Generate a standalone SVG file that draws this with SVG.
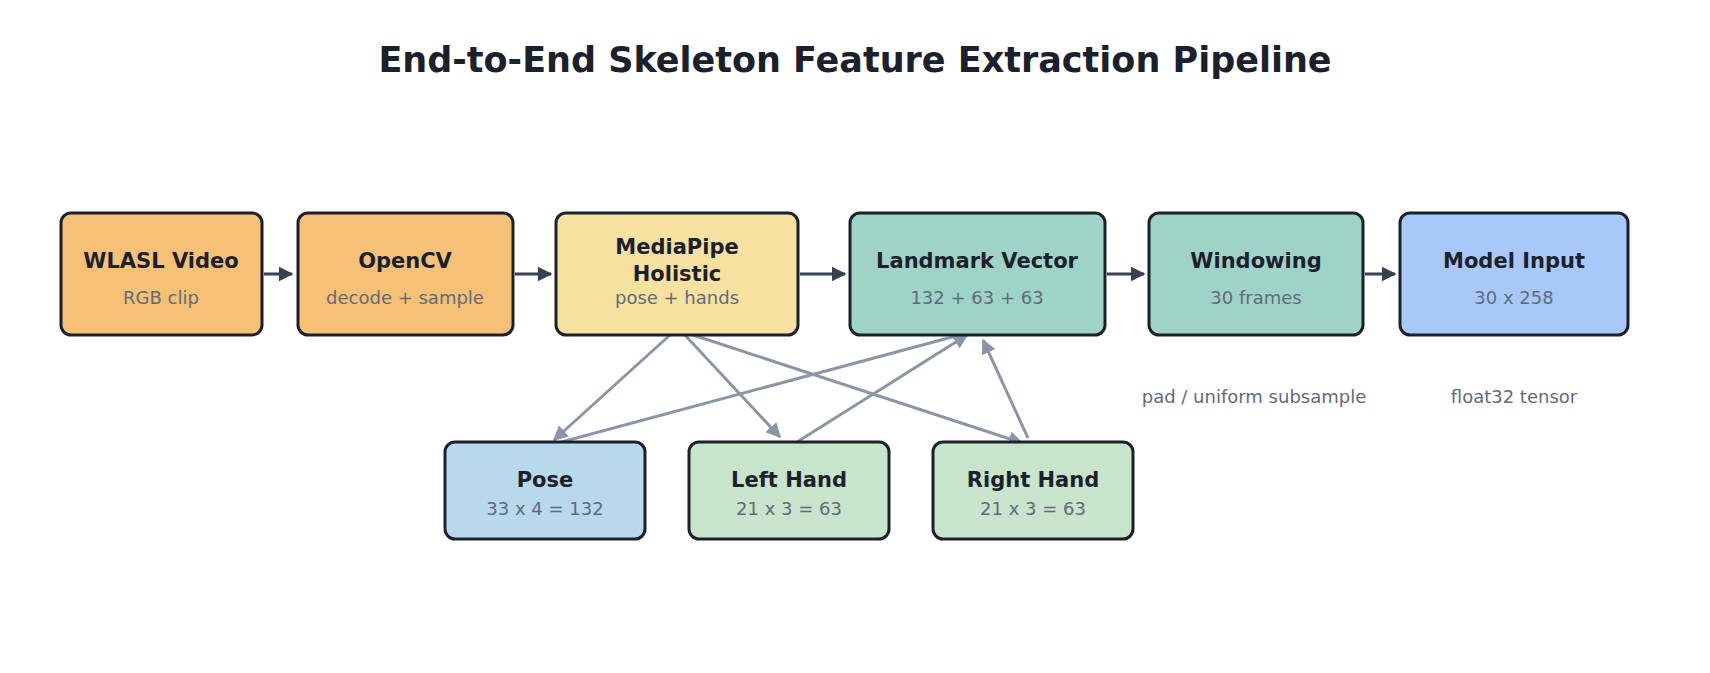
<svg xmlns="http://www.w3.org/2000/svg" width="1710" height="673" viewBox="0 0 1710 673">
<defs>
<style>
.b{stroke:#1a202c;stroke-width:3}
.t{font-family:"DejaVu Sans",sans-serif;font-weight:bold;font-size:21px;fill:#1a202c;text-anchor:middle}
.s{font-family:"DejaVu Sans",sans-serif;font-size:18px;fill:#5f6b7d;text-anchor:middle}
.d{stroke:#374151;stroke-width:3;fill:none;marker-end:url(#ad)}
.g{stroke:#8b95a8;stroke-width:3;fill:none;marker-end:url(#ag)}
</style>
<marker id="ad" viewBox="0 0 10 10" refX="9" refY="5" markerWidth="5" markerHeight="5" orient="auto"><path d="M0,0L10,5L0,10z" fill="#374151"/></marker>
<marker id="ag" viewBox="0 0 10 10" refX="9" refY="5" markerWidth="5" markerHeight="5" orient="auto"><path d="M0,0L10,5L0,10z" fill="#8b95a8"/></marker>
</defs>
<rect width="1710" height="673" fill="#fff"/>
<text x="855" y="72" font-family="DejaVu Sans,sans-serif" font-weight="bold" font-size="35" fill="#1a202c" text-anchor="middle">End-to-End Skeleton Feature Extraction Pipeline</text>
<g id="connectors">
<path class="d" d="M264,274H292"/>
<path class="d" d="M515,274H551"/>
<path class="d" d="M800,274H845"/>
<path class="d" d="M1107,274H1144"/>
<path class="d" d="M1365,274H1395"/>
<path class="g" d="M670,335L554,440"/>
<path class="g" d="M683,333L780,437"/>
<path class="g" d="M687,333L1022,443"/>
<path class="g" d="M554,444L967,333"/>
<path class="g" d="M797,442L967,335"/>
<path class="g" d="M1028,438L983,340"/>
</g>
<g id="wlasl"><rect class="b" x="61" y="213" width="201" height="122" rx="10" fill="#f6c177"/><text class="t" x="161" y="268">WLASL Video</text><text class="s" x="161" y="304">RGB clip</text></g>
<g id="opencv"><rect class="b" x="298" y="213" width="215" height="122" rx="10" fill="#f6c177"/><text class="t" x="405" y="268">OpenCV</text><text class="s" x="405" y="304">decode + sample</text></g>
<g id="mediapipe"><rect class="b" x="556" y="213" width="242" height="122" rx="10" fill="#f7e1a1"/><text class="t" x="677" y="254">MediaPipe</text><text class="t" x="677" y="281">Holistic</text><text class="s" x="677" y="304">pose + hands</text></g>
<g id="landmark"><rect class="b" x="850" y="213" width="255" height="122" rx="10" fill="#9fd3c7"/><text class="t" x="977" y="268">Landmark Vector</text><text class="s" x="977" y="304">132 + 63 + 63</text></g>
<g id="windowing"><rect class="b" x="1149" y="213" width="214" height="122" rx="10" fill="#9fd3c7"/><text class="t" x="1256" y="268">Windowing</text><text class="s" x="1256" y="304">30 frames</text></g>
<g id="model"><rect class="b" x="1400" y="213" width="228" height="122" rx="10" fill="#a8c8fa"/><text class="t" x="1514" y="268">Model Input</text><text class="s" x="1514" y="304">30 x 258</text></g>
<g id="pose"><rect class="b" x="445" y="442" width="200" height="97" rx="10" fill="#b8d8ec"/><text class="t" x="545" y="487">Pose</text><text class="s" x="545" y="515">33 x 4 = 132</text></g>
<g id="lefthand"><rect class="b" x="689" y="442" width="200" height="97" rx="10" fill="#c8e4cb"/><text class="t" x="789" y="487">Left Hand</text><text class="s" x="789" y="515">21 x 3 = 63</text></g>
<g id="righthand"><rect class="b" x="933" y="442" width="200" height="97" rx="10" fill="#c8e4cb"/><text class="t" x="1033" y="487">Right Hand</text><text class="s" x="1033" y="515">21 x 3 = 63</text></g>
<text class="s" x="1254" y="403">pad / uniform subsample</text>
<text class="s" x="1514" y="403">float32 tensor</text>
</svg>
